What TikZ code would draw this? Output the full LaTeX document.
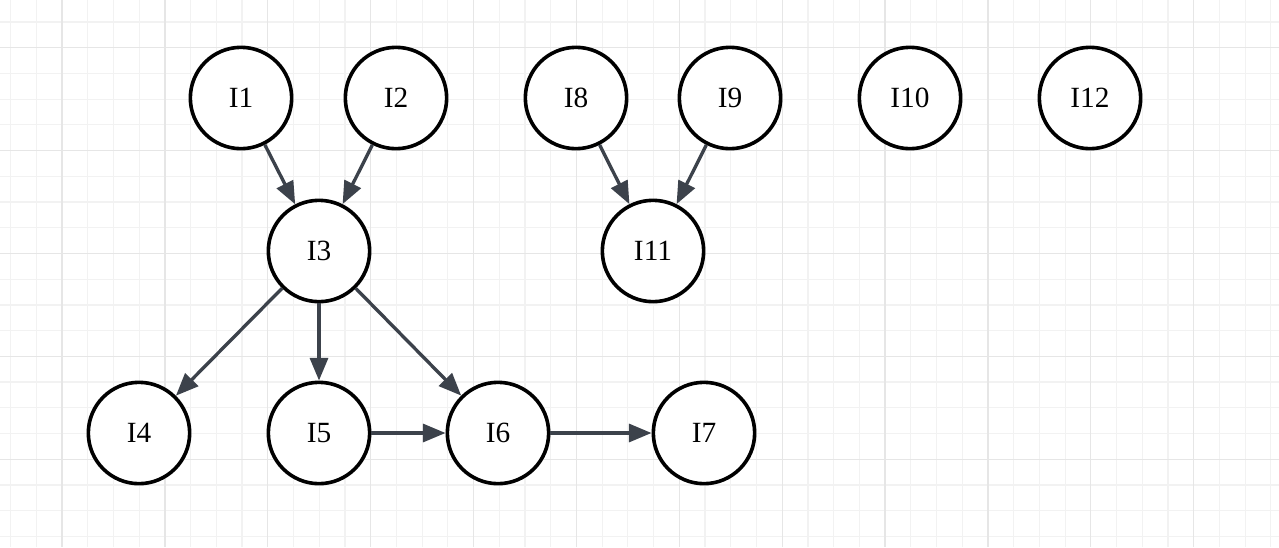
\documentclass[tikz,border=0pt]{standalone}
\usepackage{fontspec}
\setmainfont{Liberation Serif}
\usetikzlibrary{arrows.meta}
\definecolor{edgecol}{RGB}{60,66,75}
\definecolor{minorgrid}{RGB}{242,242,242}
\definecolor{majorgrid}{RGB}{230,230,230}
\begin{document}
\begin{tikzpicture}[x=0.75pt,y=-0.75pt,
  vnode/.style={circle,draw=black,line width=2.7pt,fill=white,minimum size=76pt,inner sep=0pt,font=\fontsize{22}{26}\selectfont},
  edge/.style={draw=edgecol,line width=2.5pt,-{Triangle[length=17pt,width=13.5pt]}}]
\useasboundingbox (0,0) rectangle (1279,547);
\fill[white] (0,0) rectangle (1279,547);
% minor grid
\foreach \i in {0,...,49} {\draw[minorgrid,line width=0.9pt] ({10.6+25.72*\i},0) -- ({10.6+25.72*\i},547);}
\foreach \i in {0,...,20} {\draw[minorgrid,line width=0.9pt] (0,{22+25.72*\i}) -- (1279,{22+25.72*\i});}
% major grid
\foreach \k in {0,...,12} {\draw[majorgrid,line width=1pt] ({62+102.88*\k},0) -- ({62+102.88*\k},547);}
\foreach \k in {0,...,4} {\draw[majorgrid,line width=1pt] (0,{47.7+102.88*\k}) -- (1279,{47.7+102.88*\k});}
% nodes
\node[vnode] (I1) at (241,98) {I1};
\node[vnode] (I2) at (396,98) {I2};
\node[vnode] (I8) at (576,98) {I8};
\node[vnode] (I9) at (730,98) {I9};
\node[vnode] (I10) at (910,98) {I10};
\node[vnode] (I12) at (1090,98) {I12};
\node[vnode] (I3) at (319,251) {I3};
\node[vnode] (I11) at (653,251) {I11};
\node[vnode] (I4) at (139,433) {I4};
\node[vnode] (I5) at (319,433) {I5};
\node[vnode] (I6) at (498,433) {I6};
\node[vnode] (I7) at (704,433) {I7};
% edges
\draw[edge] (I1) -- (I3);
\draw[edge] (I2) -- (I3);
\draw[edge] (I8) -- (I11);
\draw[edge] (I9) -- (I11);
\draw[edge] (I3) -- (I4);
\draw[edge] (I3) -- (I5);
\draw[edge] (I3) -- (I6);
\draw[edge] (I5) -- (I6);
\draw[edge] (I6) -- (I7);
\end{tikzpicture}
\end{document}
